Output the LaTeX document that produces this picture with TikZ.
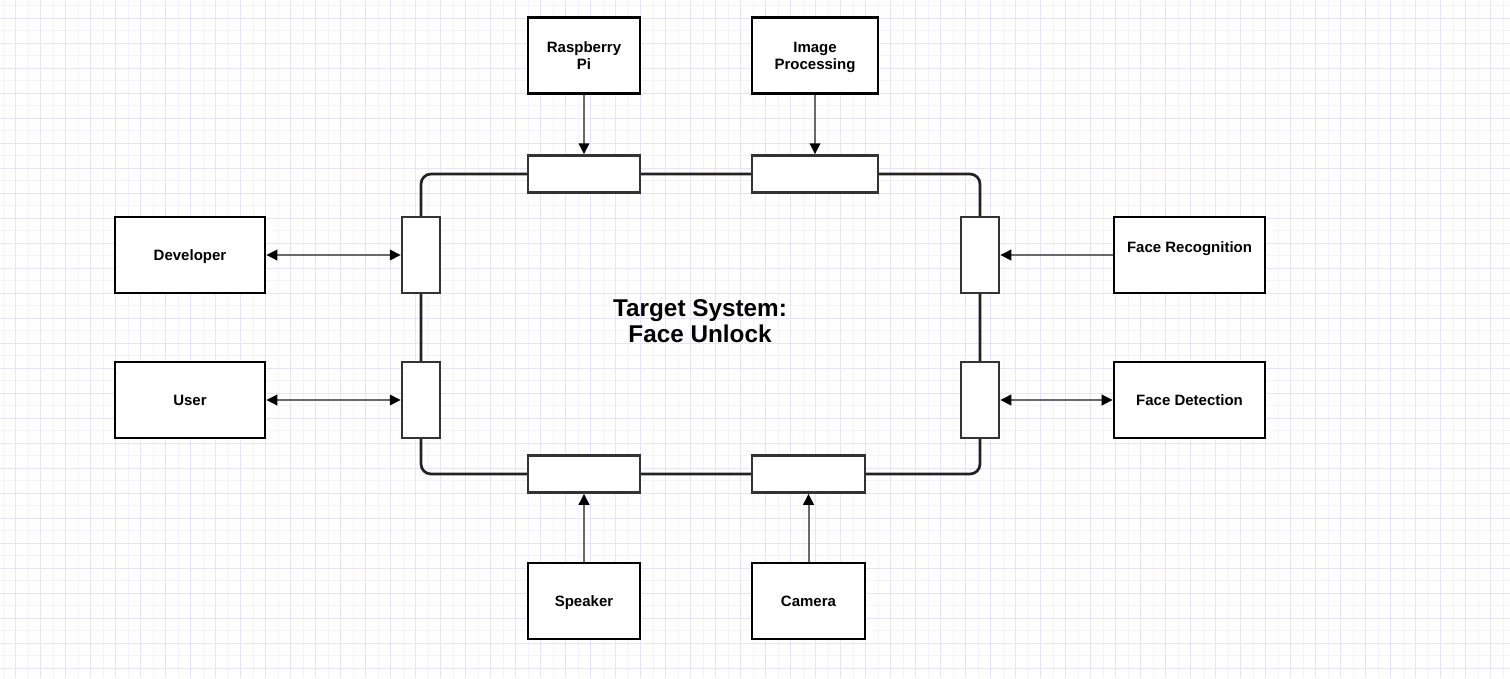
\documentclass[tikz,border=0pt]{standalone}
\usepackage{fontspec}
\setmainfont{Liberation Sans}
\usetikzlibrary{arrows.meta}
\definecolor{gridmaj}{RGB}{230,228,250}
\definecolor{gridmin}{RGB}{244,243,252}
\definecolor{portc}{RGB}{51,51,51}
\definecolor{loopc}{RGB}{34,34,34}
\definecolor{arrc}{RGB}{105,105,105}
\newcommand\capln[1]{\raisebox{0pt}[10.7pt][0pt]{#1}}
\newcommand\capbig[1]{\raisebox{0pt}[17.5pt][0pt]{#1}}
\tikzset{
  box/.style={draw=black, line width=2.6pt, fill=white, rectangle, inner sep=0pt, align=center,
    font=\fontsize{15}{17}\selectfont\bfseries},
  one/.style={text height=10.7pt, text depth=0pt},
  port/.style={draw=portc, line width=2.5pt, fill=white, rectangle, inner sep=0pt},
  loopline/.style={draw=loopc, line width=2.7pt},
  arr/.style={draw=arrc, line width=2pt, -{Triangle[length=11pt,width=10.5pt,color=black]}},
  darr/.style={draw=arrc, line width=2pt, {Triangle[length=11pt,width=10.5pt,color=black]}-{Triangle[length=11pt,width=10.5pt,color=black]}},
  lbl/.style={font=\fontsize{15}{17}\selectfont\bfseries, inner sep=0pt, text height=10.7pt, text depth=0pt}
}
\begin{document}
\begin{tikzpicture}[x=1pt,y=-1pt]
\useasboundingbox[fill=white] (0,0) rectangle (1510,678);
% grid
\foreach \k in {0,...,120} {
  \pgfmathsetmacro{\xx}{3.3+12.5*\k}
  \ifodd\k \else \draw[gridmin, line width=1pt] (\xx,0) -- (\xx,678); \fi
}
\foreach \k in {0,...,54} {
  \pgfmathsetmacro{\yy}{5.5+12.5*\k}
  \ifodd\k \else \draw[gridmin, line width=1pt] (0,\yy) -- (1510,\yy); \fi
}
\foreach \k in {0,...,120} {
  \pgfmathsetmacro{\xx}{3.3+12.5*\k}
  \ifodd\k \draw[gridmaj, line width=1pt] (\xx,0) -- (\xx,678); \fi
}
\foreach \k in {0,...,54} {
  \pgfmathsetmacro{\yy}{5.5+12.5*\k}
  \ifodd\k \draw[gridmaj, line width=1pt] (0,\yy) -- (1510,\yy); \fi
}

% port positions (for the loop)
\coordinate (cRpi) at (584,174);
\coordinate (cImg) at (815,174);
\coordinate (cSpk) at (584,474);
\coordinate (cCam) at (808.5,474);
\coordinate (cDev) at (421,255);
\coordinate (cUser) at (421,400);
\coordinate (cFR) at (980,255);
\coordinate (cFD) at (980,400);

% loop (drawn first, ports on top)
\draw[loopline, rounded corners=10pt] (cDev) |- (cRpi) -- (cImg) -| (cFR) -- (cFD) |- (cCam) -- (cSpk) -| (cUser) -- cycle;

% ports
\node[port, minimum width=112pt, minimum height=37pt] (pRpi) at (cRpi) {};
\node[port, minimum width=126pt, minimum height=37pt] (pImg) at (cImg) {};
\node[port, minimum width=112pt, minimum height=37pt] (pSpk) at (cSpk) {};
\node[port, minimum width=113pt, minimum height=37pt] (pCam) at (cCam) {};
\node[port, minimum width=38pt, minimum height=76pt] (pDev) at (cDev) {};
\node[port, minimum width=38pt, minimum height=76pt] (pUser) at (cUser) {};
\node[port, minimum width=38pt, minimum height=76pt] (pFR) at (cFR) {};
\node[port, minimum width=38pt, minimum height=76pt] (pFD) at (cFD) {};

% outer boxes
\node[box, minimum width=112pt, minimum height=76pt] (rpi) at (584,55.5) {\capln{Raspberry}\\\capln{Pi}};
\node[box, minimum width=126pt, minimum height=76pt] (img) at (815,55.5) {\capln{Image}\\\capln{Processing}};
\node[box, one, minimum width=150pt, minimum height=76pt] (dev) at (190,255) {Developer};
\node[box, one, minimum width=150pt, minimum height=76pt] (user) at (190,400) {User};
\node[box, minimum width=151pt, minimum height=76pt] (fr) at (1189.5,255) {};
\node[lbl] (frl) at ([yshift=8pt]fr.center) {Face Recognition};
\node[box, one, minimum width=151pt, minimum height=76pt] (fd) at (1189.5,400) {Face Detection};
\node[box, one, minimum width=112pt, minimum height=76pt] (spk) at (584,601) {Speaker};
\node[box, one, minimum width=113pt, minimum height=76pt] (cam) at (808.5,601) {Camera};

% title
\node[font=\fontsize{24.3}{26}\selectfont\bfseries, align=center, inner sep=0pt] (title) at (700,320.5) {\capbig{Target System:}\\\capbig{Face Unlock}};

% arrows
\draw[arr] (rpi.south) -- (pRpi.north);
\draw[arr] (img.south) -- (pImg.north);
\draw[arr] (spk.north) -- (pSpk.south);
\draw[arr] (cam.north) -- (pCam.south);
\draw[darr] (dev.east) -- (pDev.west);
\draw[darr] (user.east) -- (pUser.west);
\draw[arr] (fr.west) -- (pFR.east);
\draw[darr] (pFD.east) -- (fd.west);
\end{tikzpicture}
\end{document}
